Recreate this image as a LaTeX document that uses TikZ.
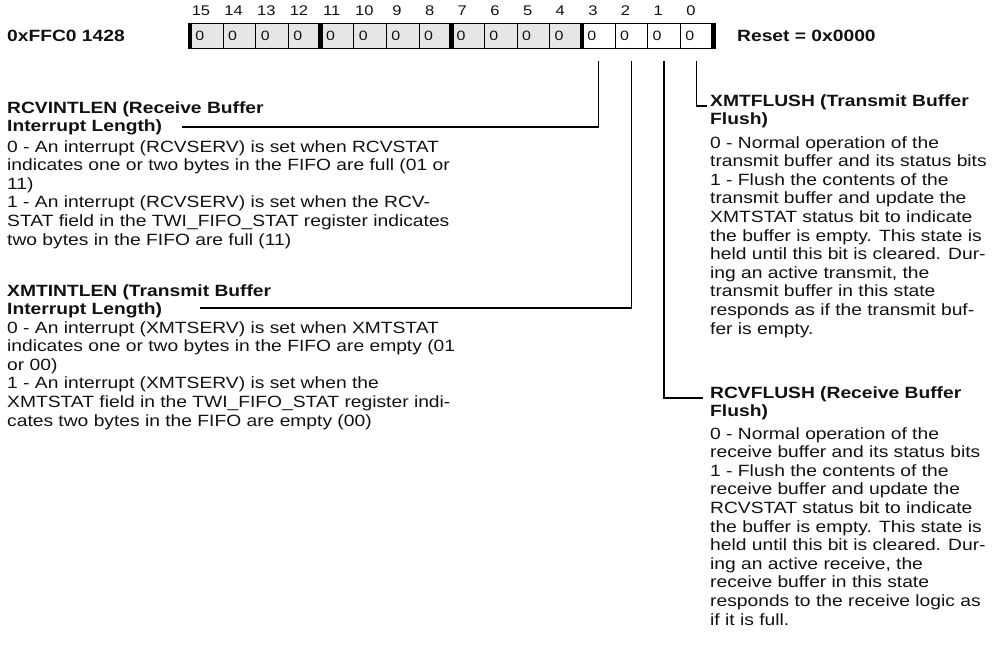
\documentclass[tikz,border=0pt]{standalone}
\usepackage{fontspec}
\setmainfont{Liberation Sans}[FakeStretch=1.18]
\usepackage{tikz}
\definecolor{RegLine}{HTML}{000000}
\definecolor{RegFill}{HTML}{E6E6E6}
\definecolor{RegText}{HTML}{111111}

\begin{document}
\begin{tikzpicture}[x=1pt,y=-1pt,
    regcell/.style={draw=RegLine,line width=0.9pt,anchor=north west,minimum width=32.66pt,minimum height=25pt,
      text width=22.66pt,inner xsep=5pt,inner ysep=0pt,align=left,text=RegText,font=\fontsize{13.5}{13.5}\selectfont},
    bitnum/.style={anchor=base,inner sep=0pt,text=RegText,font=\fontsize{14}{14}\selectfont},
    fieldhead/.style={anchor=north west,inner sep=0pt,align=left,text=RegText,font=\fontsize{16.3}{18.3}\selectfont\bfseries},
    fieldtext/.style={anchor=north west,inner sep=0pt,align=left,text=RegText,font=\fontsize{16.3}{18.6}\selectfont},
    leader/.style={draw=RegLine,line width=1.5pt,shorten <=12pt}]
    \useasboundingbox (0,0) rectangle (997,651);
    \foreach \i in {0,...,15} {
      \pgfmathsetmacro\cx{190+(15-\i)*32.66}
      \ifnum\i>3 \def\cf{RegFill}\else\def\cf{white}\fi
      \node[regcell,fill=\cf] (b\i) at (\cx,23) {0};
      \node[bitnum] (n\i) at (\cx+11,15) {\i};
    }
    \foreach \i in {15,11,7,3}
      \draw[RegLine,line width=4.5pt] ([yshift=0.5pt]b\i.north west) -- ([yshift=-0.5pt]b\i.south west);
    \draw[RegLine,line width=4.5pt] ([yshift=0.5pt]b0.north east) -- ([yshift=-0.5pt]b0.south east);

    \node[fieldhead,anchor=base west] (addr) at (7,41) {0xFFC0 1428};
    \node[fieldhead,anchor=base west] (reset) at (737,41) {Reset = 0x0000};

    \node[fieldhead] (rcvlenhead) at (7,101) {RCVINTLEN (Receive Buffer\\Interrupt Length)};
    \node[fieldtext] (rcvlentext) at (7,140) {0 - An interrupt (RCVSERV) is set when RCVSTAT\\
      indicates one or two bytes in the FIFO are full (01 or\\11)\\
      1 - An interrupt (RCVSERV) is set when the RCV-\\
      STAT field in the TWI\_FIFO\_STAT register indicates\\
      two bytes in the FIFO are full (11)};

    \node[fieldhead] (xmtlenhead) at (7,284) {XMTINTLEN (Transmit Buffer\\Interrupt Length)};
    \node[fieldtext] (xmtlentext) at (7,321) {0 - An interrupt (XMTSERV) is set when XMTSTAT\\
      indicates one or two bytes in the FIFO are empty (01\\or 00)\\
      1 - An interrupt (XMTSERV) is set when the\\
      XMTSTAT field in the TWI\_FIFO\_STAT register indi-\\
      cates two bytes in the FIFO are empty (00)};

    \node[fieldhead] (xmtflhead) at (710,94) {XMTFLUSH (Transmit Buffer\\Flush)};
    \node[fieldtext] (xmtfltext) at (710,136) {0 - Normal operation of the\\
      transmit buffer and its status bits\\
      1 - Flush the contents of the\\
      transmit buffer and update the\\
      XMTSTAT status bit to indicate\\
      the buffer is empty. This state is\\
      held until this bit is cleared. Dur-\\
      ing an active transmit, the\\
      transmit buffer in this state\\
      responds as if the transmit buf-\\
      fer is empty.};

    \node[fieldhead] (rcvflhead) at (710,386) {RCVFLUSH (Receive Buffer\\Flush)};
    \node[fieldtext] (rcvfltext) at (710,427) {0 - Normal operation of the\\
      receive buffer and its status bits\\
      1 - Flush the contents of the\\
      receive buffer and update the\\
      RCVSTAT status bit to indicate\\
      the buffer is empty. This state is\\
      held until this bit is cleared. Dur-\\
      ing an active receive, the\\
      receive buffer in this state\\
      responds to the receive logic as\\
      if it is full.};

    \coordinate (rcvlenend) at (182,127);
    \coordinate (xmtlenend) at (200,308);
    \coordinate (rcvflend) at (703,398);
    \coordinate (xmtflend) at (707,106);
    \draw[leader] (b3.south) |- (rcvlenend);
    \draw[leader] (b2.south) |- (xmtlenend);
    \draw[leader] (b1.south) |- (rcvflend);
    \draw[leader] (b0.south) |- (xmtflend);
  \end{tikzpicture}
\end{document}
